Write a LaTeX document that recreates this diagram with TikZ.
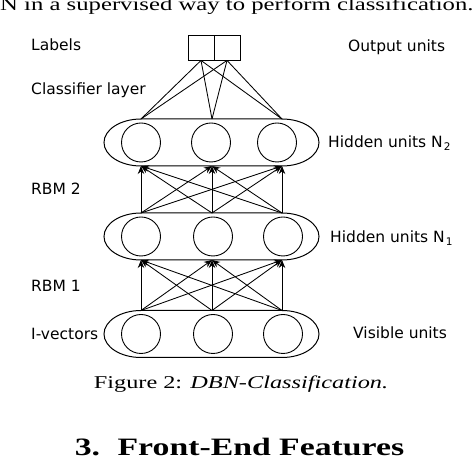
\documentclass[tikz,border=0pt]{standalone}
\usepackage{fontspec}
\setmainfont{Liberation Serif}[FakeStretch=1.35]
\newfontfamily\labelfont{DejaVu Sans}
\usetikzlibrary{arrows.meta}

\tikzset{
  unit/.style={draw,circle,minimum size=39pt,inner sep=0pt,line width=0.9pt},
  outbox/.style={draw,minimum width=26pt,minimum height=25pt,inner sep=0pt,line width=0.9pt},
  layer/.style={line width=1pt},
  link/.style={line width=0.85pt},
  lbl/.style={font=\labelfont\fontsize{15.5}{18}\selectfont,anchor=base west,inner sep=0pt},
}
\newcommand\lowidx[1]{\hspace{1pt}\raisebox{-2.5pt}{\fontsize{10.5}{12}\selectfont #1}}

\begin{document}
\begin{tikzpicture}[x=1pt,y=1pt]
  \useasboundingbox (0,0) rectangle (474,468);

  % text of the page
  \node[anchor=base west,inner sep=0pt,font=\fontsize{18.3}{21}\selectfont] (body) at (0,457)
    {N in a supervised way to perform classification.};

  % layers: name/centre/circles
  \foreach \n/\y/\a/\b/\c in {v/134/141/213/283, h1/231.5/141/213/283, h2/325.5/141/211/277} {
    \draw[layer] (141,\y+23.5) -- (282,\y+23.5)
      arc[start angle=90,end angle=-90,x radius=37pt,y radius=23.5pt]
      -- (141,\y-23.5)
      arc[start angle=270,end angle=90,x radius=37pt,y radius=23.5pt] -- cycle;
    \node[unit] (\n-u1) at (\a,\y) {};
    \node[unit] (\n-u2) at (\b,\y) {};
    \node[unit] (\n-u3) at (\c,\y) {};
    \coordinate (\n-t1) at (141,\y+23.5); % top
    \coordinate (\n-t2) at (212,\y+23.5);
    \coordinate (\n-t3) at (282,\y+23.5);
    \coordinate (\n-b1) at (141,\y-23.5); % bottom
    \coordinate (\n-b2) at (212,\y-23.5);
    \coordinate (\n-b3) at (282,\y-23.5);
  }

  % output units
  \node[outbox] (o1) at (201,420.5) {};
  \node[outbox] (o2) at (227,420.5) {};

  % RBM 1 and RBM 2
  \foreach \i in {1,2,3}
    \foreach \j in {1,2,3} {
      \draw[link,-{Stealth[length=8pt,width=6.5pt]}] (v-t\i) -- (h1-b\j);
      \draw[link,-{Stealth[length=8pt,width=6.5pt]}] (h1-t\i) -- (h2-b\j);
    }

  % classifier layer
  \foreach \o in {o1,o2}
    \foreach \j in {1,2,3}
      \draw[link] (\o.south) -- (h2-t\j);

  % labels left
  \node[lbl] (lab) at (31,417) {Labels};
  \node[lbl] (cls) at (31,373) {Classifier layer};
  \node[lbl] (rbm2) at (31,273) {RBM 2};
  \node[lbl] (rbm1) at (31,176) {RBM 1};
  \node[lbl] (ivec) at (31,128) {I-vectors};

  % labels right
  \node[lbl] (out) at (348,416) {Output units};
  \node[lbl] (hid2) at (328,320) {Hidden units N\lowidx{2}};
  \node[lbl] (hid1) at (330,225) {Hidden units N\lowidx{1}};
  \node[lbl] (vis) at (353,129) {Visible units};

  % caption and heading
  \node[anchor=base,inner sep=0pt,font=\fontsize{18}{21}\selectfont] (cap) at (241,79.5)
    {Figure 2: \textit{DBN-Classification.}};
  \node[anchor=base,inner sep=0pt,font=\fontsize{25}{28}\bfseries] (sec) at (239.5,12)
    {3.\hspace{0.7em}Front-End Features};
\end{tikzpicture}
\end{document}
